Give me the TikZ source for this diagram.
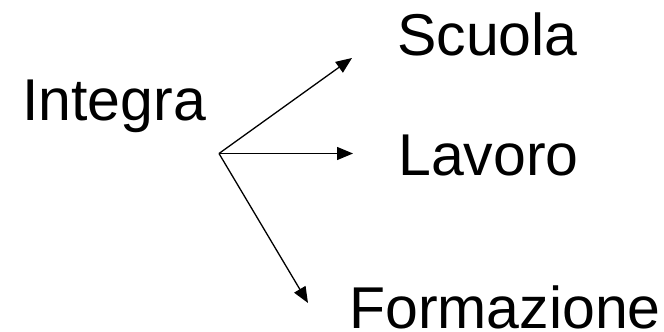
\documentclass[tikz,border=0pt]{standalone}
\usepackage{fontspec}
\setmainfont{Liberation Sans}
\usetikzlibrary{arrows.meta}
\begin{document}
\begin{tikzpicture}[x=1pt,y=1pt,
    word/.style={inner sep=0pt,anchor=base west,font=\fontsize{59}{70}\selectfont},
    arr/.style={-{Triangle[length=16pt,width=13pt]},line width=1.3pt}]
    \useasboundingbox (0,0) rectangle (664,332);
    \node[word] (integra) at (22,211) {Integra};
    \node[word] (scuola) at (397,276) {Scuola};
    \node[word] (lavoro) at (398,156) {Lavoro};
    \node[word] (formazione) at (349,3.5) {Formazione};
    \coordinate (o) at (219,178.5);
    \coordinate (ts) at (352,274);
    \coordinate (tl) at (353,178.5);
    \coordinate (tf) at (308,29);
    \draw [arr] (o)--(ts);
    \draw [arr] (o)--(tl);
    \draw [arr] (o)--(tf);
\end{tikzpicture}
\end{document}
